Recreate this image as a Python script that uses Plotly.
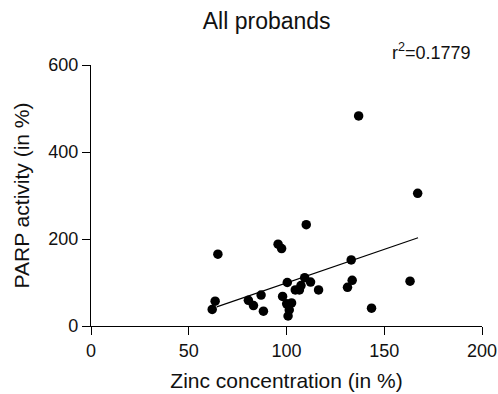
import plotly.graph_objects as go

zinc = [62.0, 63.5, 64.9, 80.5, 83.1, 87.0, 88.2, 95.7, 97.5, 98.0, 100.4, 100.1,
        102.6, 101.4, 100.8, 104.5, 106.6, 107.4, 109.3, 110.1, 112.3, 116.4,
        131.2, 133.1, 133.6, 136.9, 143.5, 163.2, 167.1]
parp = [38, 57, 165, 59, 47, 71, 34, 188, 178, 68, 100, 51,
        53, 37, 23, 83, 83, 93, 111, 233, 101, 83,
        89, 152, 105, 483, 41, 103, 305]

fit_x = [64.3, 167.3]
fit_y = [44, 203]

x_ticks = [0, 50, 100, 150, 200]
y_ticks = [0, 200, 400, 600]

font = "Liberation Sans, Arial, sans-serif"
W, H = 498, 394

fig = go.Figure()
fig.add_trace(go.Scatter(x=fit_x, y=fit_y, mode="lines",
                         line=dict(color="black", width=1.1), showlegend=False))
fig.add_trace(go.Scatter(x=zinc, y=parp, mode="markers",
                         marker=dict(color="black", size=9.5), showlegend=False))

fig.update_layout(
    width=W, height=H,
    margin=dict(l=91, r=16, t=65, b=68),
    paper_bgcolor="white", plot_bgcolor="white",
    font=dict(family=font, color="#111", size=18),
    title=dict(text="All probands", x=266.7 / W, xanchor="center", y=1 - 21 / H, yanchor="middle",
               font=dict(size=23, family=font, color="#111")),
    xaxis=dict(range=[0, 200], tickvals=x_ticks, showline=True, linecolor="black",
               linewidth=1.3, ticks="outside", ticklen=8, tickcolor="black", tickwidth=1.3,
               showgrid=False, zeroline=False, automargin=False,
               tickfont=dict(size=18),
               title=dict(text="Zinc concentration (in %)", font=dict(size=21), standoff=13)),
    yaxis=dict(range=[0, 600], tickvals=y_ticks, showline=True, linecolor="black",
               linewidth=1.3, ticks="outside", ticklen=8, tickcolor="black", tickwidth=1.3,
               showgrid=False, zeroline=False, automargin=False,
               tickfont=dict(size=18),
               title=dict(text="PARP activity (in %)", font=dict(size=21), standoff=12)),
    annotations=[dict(text="r<sup>2</sup>=0.1779", xref="paper", yref="paper",
                      x=(473 - 91) / (W - 91 - 16), y=(H - 68 - 51.5) / (H - 65 - 68),
                      xanchor="right", yanchor="middle", showarrow=False,
                      font=dict(size=18, family=font, color="#111"))],
)

fig.write_html("out.html", config={"displayModeBar": False},
               post_script="document.body.style.margin='0';document.body.style.overflow='hidden';")
